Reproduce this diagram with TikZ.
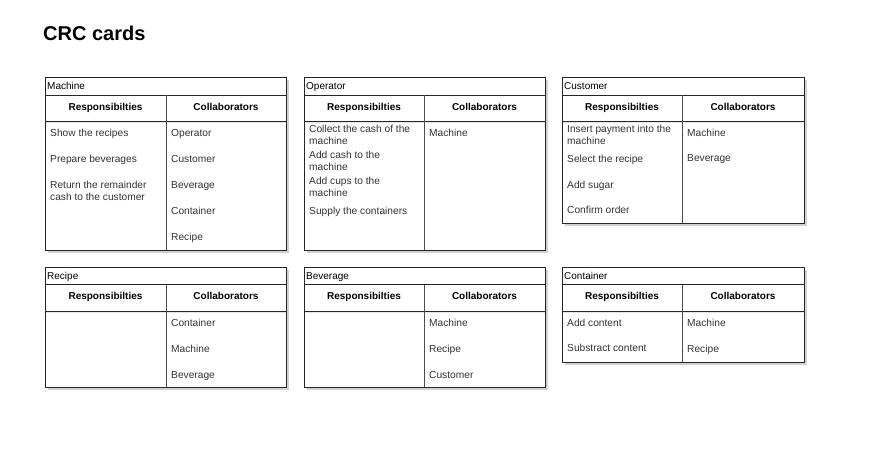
\documentclass[tikz,border=0pt]{standalone}
\usepackage{fontspec}
\setmainfont{Liberation Sans}
\tikzset{
  cardframe/.style={draw=black!85, line width=0.8pt},
  carddiv/.style={draw=black!70, line width=0.8pt},
  cardshadow/.style={fill=black!18},
  cardtitle/.style={anchor=west, inner sep=0pt, text height=7.2pt, text depth=2.1pt, font=\fontsize{10}{12}\selectfont, text=black},
  cardhead/.style={anchor=center, inner sep=0pt, text height=7.2pt, text depth=2.1pt, font=\fontsize{10}{12}\selectfont\bfseries, text=black},
  item/.style={anchor=west, inner sep=0pt, yshift=-1.5pt, text height=7.2pt, text depth=2.1pt, font=\fontsize{10.2}{12}\selectfont, text=black!80},
  itemtwo/.style={anchor=west, inner sep=0pt, yshift=-1pt, align=left, font=\fontsize{10.2}{12}\selectfont, text=black!80},
  maintitle/.style={anchor=west, inner sep=0pt, font=\fontsize{20}{24}\selectfont\bfseries, text=black}
}
% #1 id, #2 x0, #3 y0 (top), #4 x divider, #5 x1, #6 y1 (bottom), #7 title
\newcommand\crccard[7]{%
  \fill[cardshadow] (#2+2.5,#3+2.5) rectangle (#5+2.5,#6+2.5);
  \fill[white] (#2,#3) rectangle (#5,#6);
  \fill[black!10] (#2,#3+44) rectangle (#5,#3+45.5);
  \draw[cardframe] (#2,#3) rectangle (#5,#6);
  \draw[cardframe] (#2,#3+17.5) -- (#5,#3+17.5);
  \draw[cardframe] (#2,#3+44) -- (#5,#3+44);
  \draw[carddiv] (#4,#3+17.5) -- (#4,#6);
  \node[cardtitle] (#1-title) at (#2+2,#3+9.5) {#7};
  \node[cardhead] (#1-resp) at ({(#2+#4)/2},#3+30) {Responsibilties};
  \node[cardhead] (#1-coll) at ({(#4+#5)/2},#3+30) {Collaborators};
}
\begin{document}
\begin{tikzpicture}[x=1pt,y=-1pt]
\useasboundingbox[fill=white] (0,0) rectangle (877,460);

\node[maintitle] (title) at (43,33) {CRC cards};

% ---------- Machine ----------
\crccard{ma}{45}{77.5}{166}{286}{250}{Machine}
\node[item] (ma-r1) at (50,132) {Show the recipes};
\node[item] (ma-r2) at (50,158) {Prepare beverages};
\node[itemtwo] (ma-r3) at (50,190) {Return the remainder\\cash to the customer};
\node[item] (ma-c1) at (171,132) {Operator};
\node[item] (ma-c2) at (171,158) {Customer};
\node[item] (ma-c3) at (171,184) {Beverage};
\node[item] (ma-c4) at (171,210) {Container};
\node[item] (ma-c5) at (171,236) {Recipe};

% ---------- Operator ----------
\crccard{op}{304}{77.5}{424}{545}{250}{Operator}
\node[itemtwo] (op-r1) at (309,134) {Collect the cash of the\\machine};
\node[itemtwo] (op-r2) at (309,160) {Add cash to the\\machine};
\node[itemtwo] (op-r3) at (309,186) {Add cups to the\\machine};
\node[item] (op-r4) at (309,210) {Supply the containers};
\node[item] (op-c1) at (429,132) {Machine};

% ---------- Customer ----------
\crccard{cu}{562}{77.5}{682}{804}{223}{Customer}
\node[itemtwo] (cu-r1) at (567,134) {Insert payment into the\\machine};
\node[item] (cu-r2) at (567,158) {Select the recipe};
\node[item] (cu-r3) at (567,184) {Add sugar};
\node[item] (cu-r4) at (567,209) {Confirm order};
\node[item] (cu-c1) at (687,132) {Machine};
\node[item] (cu-c2) at (687,157) {Beverage};

% ---------- Recipe ----------
\crccard{re}{45}{267}{166}{286}{387}{Recipe}
\node[item] (re-c1) at (171,322) {Container};
\node[item] (re-c2) at (171,348) {Machine};
\node[item] (re-c3) at (171,374) {Beverage};

% ---------- Beverage ----------
\crccard{be}{304}{267}{424}{545}{387}{Beverage}
\node[item] (be-c1) at (429,322) {Machine};
\node[item] (be-c2) at (429,348) {Recipe};
\node[item] (be-c3) at (429,374) {Customer};

% ---------- Container ----------
\crccard{co}{562}{267}{682}{804}{362}{Container}
\node[item] (co-r1) at (567,322) {Add content};
\node[item] (co-r2) at (567,347) {Substract content};
\node[item] (co-c1) at (687,322) {Machine};
\node[item] (co-c2) at (687,348) {Recipe};
\end{tikzpicture}
\end{document}
